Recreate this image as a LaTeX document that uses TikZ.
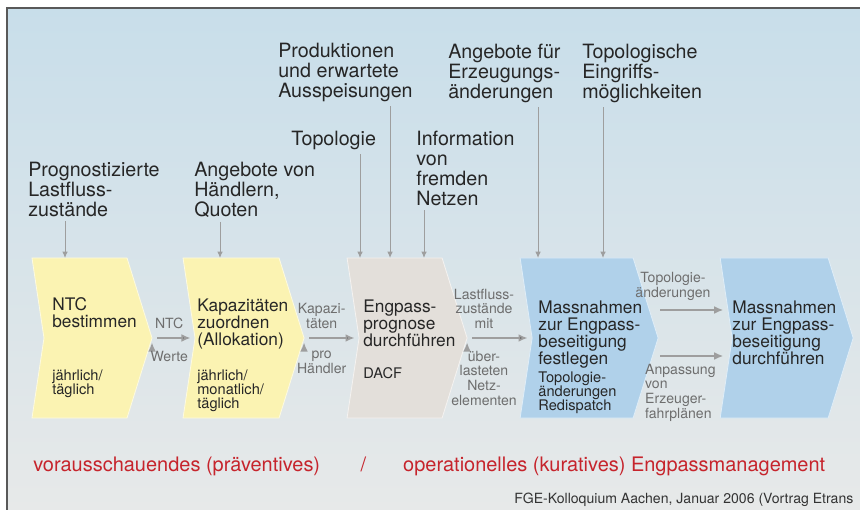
\documentclass[tikz,border=0pt]{standalone}
\usepackage{fontspec}
\setmainfont{TeX Gyre Heros}
\usepackage{xcolor}
\usetikzlibrary{positioning, arrows.meta, backgrounds}

\definecolor{yellowbox}{RGB}{251,243,178}
\definecolor{graybox}{RGB}{227,223,218}
\definecolor{bluebox}{RGB}{176,209,234}
\definecolor{bgtop}{RGB}{200,222,234}
\definecolor{bgmid}{RGB}{216,228,235}
\definecolor{bgbottom}{RGB}{231,233,233}
\definecolor{labelgray}{RGB}{110,110,110}
\definecolor{arrowgray}{RGB}{158,158,158}
\definecolor{mgmtred}{RGB}{198,36,44}

% chevron round a body node, with its tip and notch as coordinates
\newcommand{\chevron}[2]{%
  \filldraw[fill=#2, draw=white!60!#2, line width=0.6pt]
    (#1.north west) -- (#1.north east) -- ([xshift=0.625cm]#1.east) coordinate (#1-tip)
    -- (#1.south east) -- (#1.south west) -- ([xshift=0.3cm]#1.west) coordinate (#1-notch) -- cycle;}

\begin{document}
\begin{tikzpicture}[x=0.025cm, y=-0.025cm,
    body/.style={minimum width=#1, minimum height=4cm, inner sep=0pt, outer sep=0pt},
    boxtitle/.style={anchor=north west, inner sep=0pt, align=left, text=black!85, font=\fontsize{12.3}{12}\selectfont},
    boxnote/.style={anchor=north west, inner sep=0pt, align=left, text=black!85, font=\fontsize{10.4}{10}\selectfont},
    toplabel/.style={anchor=north west, inner sep=0pt, align=left, text=black!85, font=\fontsize{14}{14.2}\selectfont},
    lab/.style={inner sep=1pt, align=center, text=labelgray, font=\fontsize{10}{10.5}\selectfont},
    feed/.style={draw=arrowgray, line width=0.7pt, -{Latex[length=4.5pt,width=4pt]}, shorten <=0.1cm},
    flow/.style={draw=arrowgray, line width=1.3pt, -{Latex[length=6.5pt,width=5.5pt]}, shorten <=0.125cm, shorten >=0.11cm},
    mgmt/.style={inner sep=0pt, text=mgmtred, font=\fontsize{14.2}{14}\selectfont}]
    \useasboundingbox (0,0) rectangle (860,510);

    % process chain
    \node[body=2.375cm] (c1) at (79.5,338) {};
    \node[body=2.4cm, right=1.4cm of c1] (c2) {};
    \node[body=2.375cm, right=1.7cm of c2] (c3) {};
    \node[body=2.825cm, right=1.95cm of c3] (c4) {};
    \node[body=2.7cm, right=2.175cm of c4] (c5) {};

    \begin{pgfonlayer}{background}
        \shade[top color=bgtop, middle color=bgmid, bottom color=bgbottom] (7,8) rectangle (860,510);
        \chevron{c1}{yellowbox}
        \chevron{c2}{yellowbox}
        \chevron{c3}{graybox}
        \chevron{c4}{bluebox}
        \chevron{c5}{bluebox}
    \end{pgfonlayer}
    \draw[black!65, line width=1pt] (7,510) -- (7,8) -- (860,8);

    \node[boxtitle, below right=0.975cm and 0.5cm of c1.north west] (t1) {NTC\\bestimmen};
    \node[boxnote, below right=2.79cm and 0.5cm of c1.north west] (n1) {jährlich/\\täglich};
    \node[boxtitle, below right=1.025cm and 0.35cm of c2.north west] (t2) {Kapazitäten\\zuordnen\\(Allokation)};
    \node[boxnote, below right=2.79cm and 0.35cm of c2.north west] (n2) {jährlich/\\monatlich/\\täglich};
    \node[boxtitle, below right=1.05cm and 0.4cm of c3.north west] (t3) {Engpass-\\prognose\\durchführen};
    \node[boxnote, below right=2.725cm and 0.4cm of c3.north west] (n3) {DACF};
    \node[boxtitle, below right=1.075cm and 0.45cm of c4.north west] (t4) {Massnahmen\\zur Engpass-\\beseitigung\\festlegen};
    \node[boxnote, below right=2.84cm and 0.45cm of c4.north west] (n4) {Topologie-\\änderungen\\Redispatch};
    \node[boxtitle, below right=1.075cm and 0.3cm of c5.north west] (t5) {Massnahmen\\zur Engpass-\\beseitigung\\durchführen};

    % inputs from above
    \node[toplabel] (prog) at (28,162) {Prognostizierte\\Lastfluss-\\zustände};
    \node[toplabel] (angeb) at (194,162) {Angebote von\\Händlern,\\Quoten};
    \node[toplabel] (topo) at (291,131) {Topologie};
    \node[toplabel] (prod) at (278,43) {Produktionen\\und erwartete\\Ausspeisungen};
    \node[toplabel] (info) at (416,131) {Information\\von\\fremden\\Netzen};
    \node[toplabel] (erz) at (448,44) {Angebote für\\Erzeugungs-\\änderungen};
    \node[toplabel] (eingr) at (582,44) {Topologische\\Eingriffs-\\möglichkeiten};

    \draw[feed] ([xshift=0.925cm]prog.south west) coordinate (f1) -- (f1 |- c1.north);
    \draw[feed] ([xshift=0.65cm]angeb.south west) coordinate (f2) -- (f2 |- c2.north);
    \draw[feed] ([xshift=1.725cm]topo.south west) coordinate (f3) -- (f3 |- c3.north);
    \draw[feed] ([xshift=2.8cm]prod.south west) coordinate (f4) -- (f4 |- c3.north);
    \draw[feed] ([xshift=0.2cm]info.south west) coordinate (f5) -- (f5 |- c3.north);
    \draw[feed] ([xshift=2.25cm]erz.south west) coordinate (f6) -- (f6 |- c4.north);
    \draw[feed] ([xshift=0.525cm]eingr.south west) coordinate (f7) -- (f7 |- c4.north);

    \draw[flow] (c1-tip) edge node[lab, above=5pt, pos=0.4] {NTC} node[lab, below=7.5pt, pos=0.4] {Werte} (c2-notch);
    \draw[flow] (c2-tip) edge node[lab, above=5pt, pos=0.32] {Kapazi-\\täten} node[lab, below=7.5pt, pos=0.32] {pro\\Händler} (c3-notch);
    \draw[flow] (c3-tip) edge node[lab, above=5pt, pos=0.26] {Lastfluss-\\zustände\\mit} node[lab, below=7.5pt, pos=0.26] {über-\\lasteten\\Netz-\\elementen} (c4-notch);
    \draw[flow, shorten <=0.05cm, shorten >=0.22cm] ([yshift=0.7cm]c4-tip) -- node[lab, above=5pt, pos=0.2] {Topologie-\\änderungen} ([yshift=0.7cm]c5-notch);
    \draw[flow, shorten <=0.05cm, shorten >=0.22cm] ([yshift=-0.45cm]c4-tip) -- node[lab, align=left, below=4pt, pos=0.3] {Anpassung\\von\\Erzeuger-\\fahrplänen} ([yshift=-0.45cm]c5-notch);

    % phases
    \node[mgmt, anchor=base west] (prev) at (33,471) {vorausschauendes (präventives)};
    \node[mgmt, base right=1.0cm of prev] (slash) {/};
    \node[mgmt, base right=0.91cm of slash] (oper) {operationelles (kuratives) Engpassmanagement};

    \node[anchor=base west, inner sep=0pt, text=black!80, font=\fontsize{10}{10}\selectfont] (src) at (514,503) {FGE-Kolloquium Aachen, Januar 2006 (Vortrag Etrans};
\end{tikzpicture}
\end{document}
